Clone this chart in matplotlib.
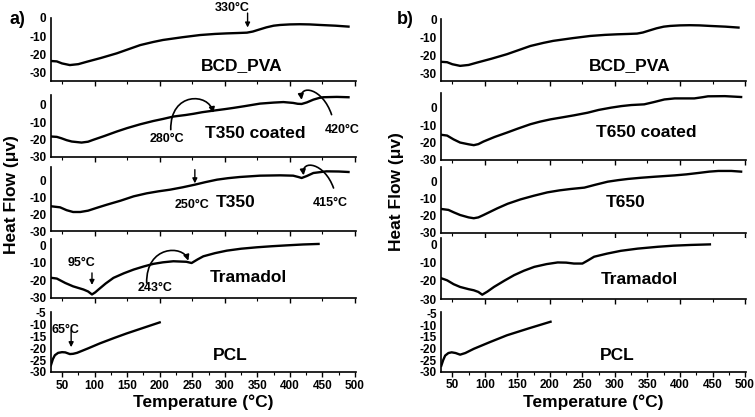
import matplotlib
matplotlib.use("Agg")
import matplotlib.pyplot as plt
from matplotlib.patches import FancyArrowPatch
from matplotlib.path import Path
from matplotlib.ticker import MultipleLocator
import numpy as np

plt.rcParams['font.family'] = ['Liberation Sans', 'DejaVu Sans']
plt.rcParams['font.weight'] = 'bold'
plt.rcParams['axes.labelweight'] = 'bold'
plt.rcParams['axes.unicode_minus'] = False

# DSC curves: temperature (C), heat flow (uV)
bcd_T = [34, 42, 50, 62, 75, 88, 110, 134, 150, 170, 190, 205, 235, 262, 285, 303,
         320, 334, 343, 352, 364, 375, 385, 400, 415, 430, 446, 470, 490]
bcd_H = [-23.5, -23.7, -24.8, -25.7, -25.2, -23.9, -21.8, -19.3, -17.3, -14.8, -13.1,
         -12.0, -10.5, -9.3, -8.7, -8.4, -8.2, -8.0, -7.4, -6.4, -5.1, -4.2, -3.8, -3.5,
         -3.4, -3.5, -3.8, -4.2, -4.7]

t350c_T = [34, 42, 49, 57, 65, 80, 90, 98, 115, 134, 150, 170, 190, 205, 221, 240, 252,
           265, 282, 300, 313, 330, 354, 375, 390, 405, 412, 418, 426, 436, 445, 451,
           472, 490]
t350c_H = [-18.3, -18.5, -19.3, -20.4, -21.2, -21.8, -21.3, -20.2, -18.0, -15.4, -13.4,
           -11.2, -9.3, -8.1, -6.7, -5.8, -5.1, -4.2, -3.3, -2.4, -1.7, -0.7, 0.8, 1.4,
           1.7, 1.2, 0.7, 0.6, 1.5, 3.1, 4.1, 4.5, 4.7, 4.5]

t350_T = [34, 47, 57, 67, 78, 90, 105, 119, 140, 160, 180, 198, 216, 235, 254, 270,
          288, 305, 323, 354, 385, 405, 413, 418, 426, 436, 456, 475, 490]
t350_H = [-15.2, -15.8, -17.5, -18.6, -18.6, -17.8, -15.9, -14.2, -11.8, -9.2, -7.4,
          -6.2, -5.2, -3.8, -2.2, -0.7, 0.8, 1.7, 2.4, 3.2, 3.4, 3.2, 2.4, 1.8, 3.0,
          4.8, 5.8, 5.7, 5.4]

tram_a_T = [34, 42, 55, 67, 83, 90, 96, 101, 106, 117, 129, 145, 160, 175, 190, 205,
            221, 241, 249, 258, 267, 285, 303, 325, 349, 372, 395, 420, 444]
tram_a_H = [-18.6, -19.0, -21.5, -23.4, -25.2, -26.3, -28.0, -26.8, -25.2, -21.8,
            -18.6, -16.0, -13.9, -12.2, -10.7, -9.8, -9.2, -9.5, -10.2, -8.2, -6.4,
            -4.6, -3.2, -2.1, -1.3, -0.7, -0.2, 0.3, 0.6]

pcl_a_T = [33, 36, 39, 44, 50, 55, 62, 67, 73, 90, 108, 130, 149, 175, 200]
pcl_a_H = [-27.1, -24.5, -22.9, -21.9, -21.6, -21.7, -22.4, -22.3, -21.9, -20.0,
           -17.9, -15.6, -13.7, -11.3, -9.0]

t650c_T = [34, 42, 52, 62, 75, 83, 90, 98, 115, 134, 150, 170, 185, 201, 220, 237,
           258, 275, 294, 310, 325, 345, 360, 376, 392, 422, 435, 443, 469, 494]
t650c_H = [-15.6, -16.0, -18.2, -20.0, -21.0, -21.5, -20.9, -19.4, -16.8, -14.3, -12.1,
           -9.5, -8.0, -6.7, -5.5, -4.4, -2.9, -1.3, 0.0, 0.9, 1.5, 1.9, 3.2, 4.7, 5.3,
           5.3, 6.0, 6.5, 6.6, 6.1]

t650_T = [34, 44, 52, 62, 75, 83, 90, 98, 119, 135, 155, 175, 196, 215, 232, 253, 270,
          289, 305, 320, 340, 361, 392, 410, 428, 445, 459, 479, 494]
t650_H = [-16.1, -16.6, -18.0, -19.6, -21.0, -21.5, -21.0, -19.6, -15.7, -13.0, -10.4,
          -8.3, -6.3, -5.1, -4.3, -3.5, -1.8, 0.0, 0.9, 1.6, 2.3, 2.9, 3.7, 4.3, 5.1,
          5.9, 6.3, 6.3, 5.9]

tram_b_T = [34, 42, 52, 62, 75, 83, 90, 96, 104, 114, 130, 145, 160, 176, 195, 212,
            225, 237, 250, 258, 268, 288, 309, 335, 366, 390, 417, 446]
tram_b_H = [-18.7, -19.7, -21.8, -23.3, -24.5, -25.1, -26.0, -27.5, -25.8, -23.3,
            -19.9, -16.9, -14.5, -12.4, -10.9, -10.0, -10.1, -10.6, -10.6, -9.0, -6.9,
            -5.2, -3.7, -2.5, -1.5, -0.9, -0.5, -0.2]

pcl_b_T = [33, 36, 39, 44, 49, 55, 62, 70, 83, 108, 134, 168, 201]
pcl_b_H = [-27.5, -25.0, -23.1, -22.0, -21.7, -22.0, -22.7, -22.0, -20.2, -17.3,
           -14.4, -11.4, -8.6]

W, H = 755, 417
fig = plt.figure(figsize=(W / 100, H / 100), dpi=100)


def make_axes(l, r, t, b, ylim, yticks, bottom=False):
    ax = fig.add_axes([l / W, 1 - b / H, (r - l) / W, (b - t) / H])
    ax.set_xlim(32.6, 501.5)
    ax.set_ylim(*ylim)
    ax.set_yticks(yticks)
    for s in ('top', 'right'):
        ax.spines[s].set_visible(False)
    ax.spines['left'].set_linewidth(1.2)
    ax.spines['bottom'].set_linewidth(1.2)
    ax.tick_params(axis='y', length=0, pad=3, labelsize=8.5)
    if bottom:
        ax.xaxis.set_major_locator(MultipleLocator(50))
        ax.xaxis.set_minor_locator(MultipleLocator(25))
        ax.tick_params(axis='x', which='major', length=3.5, width=1, pad=2, labelsize=8.5)
        ax.tick_params(axis='x', which='minor', length=2, width=0.8)
    else:
        ax.xaxis.set_major_locator(MultipleLocator(100))
        ax.xaxis.set_minor_locator(MultipleLocator(50))
        ax.tick_params(axis='x', which='major', length=3.5, width=1, labelbottom=False)
        ax.tick_params(axis='x', which='minor', length=2, width=0.8)
    for lab in ax.get_xticklabels() + ax.get_yticklabels():
        lab.set_fontweight('bold')
    return ax


def straight_arrow(ax, x, y0, y1):
    ax.annotate('', xy=(x, y1), xytext=(x, y0), annotation_clip=False,
                arrowprops=dict(arrowstyle='-|>', lw=1, color='black',
                                mutation_scale=7, shrinkA=0, shrinkB=0))


def loop_arrow(ax, pts):
    p = Path(pts, [Path.MOVETO, Path.CURVE4, Path.CURVE4, Path.CURVE4])
    a = FancyArrowPatch(path=p, arrowstyle='-|>', mutation_scale=8, lw=1.2,
                        color='black', clip_on=False)
    ax.add_patch(a)


lw = 1.7
ytk = [0, -10, -20, -30]
pcl_tk = [-5, -10, -15, -20, -25, -30]
lbl = dict(fontsize=12.5, fontweight='bold', ha='center', va='center')
ann = dict(fontsize=9, fontweight='bold', ha='center', va='center')

# ---- panel a) ----
L, R = 50.7, 356
a1 = make_axes(L, R, 18, 81, (-34.4, 0), ytk)
a1.plot(bcd_T, bcd_H, color='black', lw=lw)
a1.text(326, -25.7, 'BCD_PVA', **lbl)
straight_arrow(a1, 335, 2.7, -5.2)
a1.text(311, 5.5, '330°C', **ann)

a2 = make_axes(L, R, 95, 156.7, (-30, 5.8), ytk)
a2.plot(t350c_T, t350c_H, color='black', lw=lw)
a2.text(346, -16.3, 'T350 coated', **lbl)
loop_arrow(a2, [(217, -14.3), (216, 8), (276, 7), (282, -4.7)])
a2.text(211, -20, '280°C', **ann)
loop_arrow(a2, [(464, -5.6), (450, 10), (415, 12), (418, 3)])
a2.text(480, -14.3, '420°C', **ann)

a3 = make_axes(L, R, 167, 231, (-30, 8.4), ytk)
a3.plot(t350_T, t350_H, color='black', lw=lw)
a3.text(316, -13, 'T350', **lbl)
straight_arrow(a3, 254, 6.8, -1.4)
a3.text(249, -14.2, '250°C', **ann)
loop_arrow(a3, [(467, -4.2), (453, 11), (418, 13), (421, 3.4)])
a3.text(462, -13, '415°C', **ann)

a4 = make_axes(L, R, 239, 298, (-30, 3.4), ytk)
a4.plot(tram_a_T, tram_a_H, color='black', lw=lw)
a4.text(336, -18.6, 'Tramadol', **lbl)
straight_arrow(a4, 96, -15.8, -22.6)
a4.text(80, -10.2, '95°C', **ann)
loop_arrow(a4, [(180, -21.5), (179, 0), (236, 0), (244, -8.9)])
a4.text(193, -24.3, '243°C', **ann)

a5 = make_axes(L, R, 312, 372, (-30, -4.6), pcl_tk, bottom=True)
a5.plot(pcl_a_T, pcl_a_H, color='black', lw=lw)
a5.text(308, -22.9, 'PCL', **lbl)
straight_arrow(a5, 64, -12.2, -19.5)
a5.text(56, -12.2, '65°C', **ann)
a5.set_xlabel('Temperature (°C)', fontsize=12.5, fontweight='bold', labelpad=2)

# ---- panel b) ----
L, R = 441, 746
b1 = make_axes(L, R, 19, 81, (-34, 0), ytk)
b1.plot(bcd_T, bcd_H, color='black', lw=lw)
b1.text(322, -25.7, 'BCD_PVA', **lbl)

b2 = make_axes(L, R, 93, 160, (-30, 8.4), ytk)
b2.plot(t650c_T, t650c_H, color='black', lw=lw)
b2.text(348, -14.3, 'T650 coated', **lbl)

b3 = make_axes(L, R, 166.7, 232.7, (-30, 8.8), ytk)
b3.plot(t650_T, t650_H, color='black', lw=lw)
b3.text(317, -12.5, 'T650', **lbl)

b4 = make_axes(L, R, 238.3, 299.3, (-30, 3.1), ytk)
b4.plot(tram_b_T, tram_b_H, color='black', lw=lw)
b4.text(337, -19.5, 'Tramadol', **lbl)

b5 = make_axes(L, R, 311.7, 371.7, (-30, -4.3), pcl_tk, bottom=True)
b5.plot(pcl_b_T, pcl_b_H, color='black', lw=lw)
b5.text(304, -23.1, 'PCL', **lbl)
b5.set_xlabel('Temperature (°C)', fontsize=12.5, fontweight='bold', labelpad=2)

# shared labels
fig.text(12 / W, 1 - 195 / H, 'Heat Flow (μv)', rotation=90, fontsize=12.5,
         fontweight='bold', ha='center', va='center')
fig.text(397 / W, 1 - 192 / H, 'Heat Flow (μv)', rotation=90, fontsize=12.5,
         fontweight='bold', ha='center', va='center')
fig.text(17 / W, 1 - 19 / H, 'a)', fontsize=13, fontweight='bold', ha='center', va='center')
fig.text(405 / W, 1 - 19 / H, 'b)', fontsize=13, fontweight='bold', ha='center', va='center')

fig.savefig('out.png', dpi=100)
